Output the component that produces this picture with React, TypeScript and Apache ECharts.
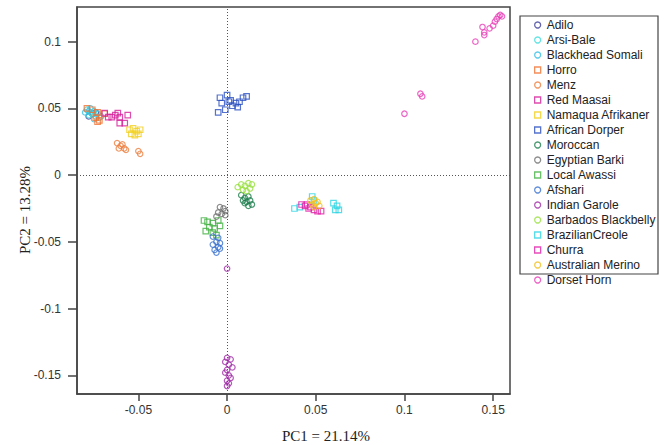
import React, { useEffect, useRef } from "react";
import * as echarts from "echarts";

const breeds = [
  "Adilo", "Arsi-Bale", "Blackhead Somali", "Horro", "Menz", "Red Maasai",
  "Namaqua Afrikaner", "African Dorper", "Moroccan", "Egyptian Barki", "Local Awassi",
  "Afshari", "Indian Garole", "Barbados Blackbelly", "BrazilianCreole", "Churra",
  "Australian Merino", "Dorset Horn",
];
const colors = [
  "#40409a", "#3fdcdc", "#33bfe6", "#f07030", "#ee8040", "#d4209a",
  "#f2d020", "#2a50c0", "#1f7f4f", "#707070", "#44b044",
  "#3a72d0", "#a030a8", "#98e040", "#2ed4e4", "#e020a8",
  "#f0c020", "#e840b8",
];
const shapes = [
  "circle", "circle", "circle", "rect", "circle", "rect",
  "rect", "rect", "circle", "circle", "rect",
  "circle", "circle", "circle", "rect", "rect",
  "circle", "circle",
];

const adilo = [[-0.076, 0.046], [-0.074, 0.047], [-0.078, 0.044]];
const arsiBale = [[-0.079, 0.049], [-0.077, 0.047], [-0.075, 0.048], [-0.078, 0.045], [-0.074, 0.044], [-0.076, 0.046], [-0.072, 0.043]];
const blackheadSomali = [[-0.080, 0.047], [-0.077, 0.050], [-0.073, 0.046], [-0.075, 0.042], [-0.071, 0.044], [-0.078, 0.048]];
const horro = [[-0.079, 0.050], [-0.076, 0.049], [-0.073, 0.047], [-0.073, 0.040], [-0.072, 0.041], [-0.074, 0.043], [-0.069, 0.046]];
const menz = [[-0.062, 0.024], [-0.060, 0.022], [-0.058, 0.020], [-0.061, 0.020], [-0.057, 0.019], [-0.059, 0.023], [-0.050, 0.018], [-0.049, 0.016]];
const redMaasai = [[-0.069, 0.0465], [-0.067, 0.0435], [-0.065, 0.0435], [-0.063, 0.045], [-0.0616, 0.0465], [-0.0605, 0.0435], [-0.0605, 0.039], [-0.0577, 0.039], [-0.056, 0.045]];
const namaqua = [[-0.055, 0.034], [-0.053, 0.035], [-0.051, 0.033], [-0.054, 0.031], [-0.052, 0.030], [-0.049, 0.034], [-0.050, 0.031]];
const africanDorper = [[-0.004, 0.058], [-0.003, 0.054], [-0.005, 0.047], [-0.001, 0.049], [0.000, 0.060], [0.002, 0.056], [0.003, 0.052], [0.005, 0.054], [0.007, 0.055], [0.009, 0.058], [0.011, 0.059], [0.006, 0.051], [0.001, 0.055]];
const moroccan = [[0.008, -0.015], [0.010, -0.017], [0.012, -0.016], [0.009, -0.019], [0.011, -0.020], [0.013, -0.019], [0.014, -0.022], [0.012, -0.023], [0.010, -0.021]];
const egyptianBarki = [[-0.004, -0.024], [-0.002, -0.025], [-0.001, -0.027], [-0.005, -0.028], [-0.003, -0.029], [-0.001, -0.030], [-0.006, -0.031]];
const localAwassi = [[-0.013, -0.034], [-0.011, -0.035], [-0.008, -0.036], [-0.005, -0.034], [-0.010, -0.039], [-0.007, -0.040], [-0.004, -0.038], [-0.012, -0.042], [-0.008, -0.043], [-0.006, -0.045]];
const afshari = [[-0.008, -0.046], [-0.005, -0.047], [-0.006, -0.050], [-0.004, -0.051], [-0.008, -0.052], [-0.005, -0.054], [-0.007, -0.056], [-0.004, -0.055], [-0.006, -0.058]];
const indianGarole = [[0.000, -0.070], [0.000, -0.137], [0.002, -0.138], [-0.001, -0.140], [0.001, -0.142], [0.003, -0.144], [0.000, -0.146], [-0.001, -0.148], [0.001, -0.150], [0.002, -0.152], [0.000, -0.154], [0.001, -0.156], [0.000, -0.158]];
const barbados = [[0.006, -0.009], [0.008, -0.007], [0.010, -0.008], [0.012, -0.006], [0.014, -0.007], [0.009, -0.011], [0.011, -0.012], [0.013, -0.010]];
const brazilianCreole = [[0.038, -0.025], [0.041, -0.024], [0.048, -0.016], [0.049, -0.019], [0.060, -0.021], [0.062, -0.023], [0.063, -0.026], [0.061, -0.026]];
const churra = [[0.042, -0.022], [0.045, -0.022], [0.047, -0.024], [0.049, -0.026], [0.051, -0.027], [0.053, -0.027], [0.046, -0.025], [0.044, -0.023]];
const australianMerino = [[0.047, -0.019], [0.049, -0.018], [0.050, -0.021], [0.048, -0.022], [0.051, -0.020], [0.049, -0.024], [0.052, -0.023]];
const dorsetHorn = [[0.100, 0.046], [0.109, 0.061], [0.110, 0.059], [0.140, 0.100], [0.144, 0.111], [0.145, 0.107], [0.145, 0.105], [0.148, 0.110], [0.150, 0.112], [0.151, 0.115], [0.152, 0.117], [0.153, 0.119], [0.154, 0.120], [0.155, 0.119]];

const seriesData = [
  adilo, arsiBale, blackheadSomali, horro, menz, redMaasai, namaqua, africanDorper,
  moroccan, egyptianBarki, localAwassi, afshari, indianGarole, barbados,
  brazilianCreole, churra, australianMerino, dorsetHorn,
];

const xTicks = [-0.05, 0, 0.05, 0.1, 0.15];
const yTicks = [-0.15, -0.1, -0.05, 0, 0.05, 0.1];

export default function App() {
  const ref = useRef<HTMLDivElement>(null);
  useEffect(() => {
    if (!ref.current) return;
    const chart = echarts.init(ref.current, undefined, { renderer: "svg" });
    const axisColor = "#444";
    const labelStyle = { fontFamily: "Liberation Sans", fontSize: 12, color: "#333" };
    const series: any[] = breeds.map((name, i) => ({
      type: "scatter",
      name,
      symbol: shapes[i],
      symbolSize: 5.5,
      data: seriesData[i],
      itemStyle: { color: "rgba(255,255,255,0)", borderColor: colors[i], borderWidth: 1.2 },
      emphasis: { disabled: true },
    }));
    series[0].markLine = {
      silent: true,
      symbol: "none",
      label: { show: false },
      lineStyle: { color: "#555", width: 1, type: [1, 2] },
      data: [{ xAxis: 0 }, { yAxis: 0 }],
    };
    chart.setOption({
      animation: false,
      grid: {
        left: 77, top: 7, right: 156, bottom: 51,
        show: true, borderColor: axisColor, borderWidth: 1.5, backgroundColor: "transparent",
      },
      xAxis: {
        type: "value",
        min: -0.0846,
        max: 0.1595,
        axisLine: { show: true, onZero: false, lineStyle: { color: axisColor, width: 1.5 } },
        axisTick: { show: true, inside: false, length: 7, customValues: xTicks, lineStyle: { color: axisColor, width: 1.5 } },
        axisLabel: { ...labelStyle, margin: 10, customValues: xTicks, formatter: (v: number) => String(v) },
        splitLine: { show: false },
      },
      yAxis: {
        type: "value",
        min: -0.164,
        max: 0.126,
        axisLine: { show: true, onZero: false, lineStyle: { color: axisColor, width: 1.5 } },
        axisTick: { show: true, inside: false, length: 9, customValues: yTicks, lineStyle: { color: axisColor, width: 1.5 } },
        axisLabel: { ...labelStyle, margin: 16, customValues: yTicks, formatter: (v: number) => String(v) },
        splitLine: { show: false },
      },
      legend: {
        orient: "vertical",
        left: 534,
        top: 19,
        padding: 0,
        itemWidth: 6,
        itemHeight: 6,
        itemGap: 3,
        selectedMode: false,
        itemStyle: { borderWidth: 1.3 },
        textStyle: { fontFamily: "Liberation Sans", fontSize: 12, lineHeight: 12, color: "#222", padding: [0, 0, 0, 1] },
        data: breeds,
      },
      graphic: [
        {
          type: "rect",
          shape: { x: 520, y: 16, width: 138, height: 258 },
          style: { fill: "none", stroke: axisColor, lineWidth: 1.2 },
          silent: true,
        },
        {
          type: "text",
          x: 326,
          y: 436,
          style: {
            text: "PC1 = 21.14%",
            font: "15px 'Liberation Serif'",
            fill: "#222",
            align: "center",
            verticalAlign: "middle",
          },
        },
        {
          type: "text",
          x: 25,
          y: 210,
          rotation: Math.PI / 2,
          style: {
            text: "PC2 = 13.28%",
            font: "15px 'Liberation Serif'",
            fill: "#222",
            align: "center",
            verticalAlign: "middle",
          },
        },
      ],
      series,
    });
    return () => chart.dispose();
  }, []);
  return <div ref={ref} style={{ width: 666, height: 445, position: "absolute", left: 0, top: 0 }} />;
}
